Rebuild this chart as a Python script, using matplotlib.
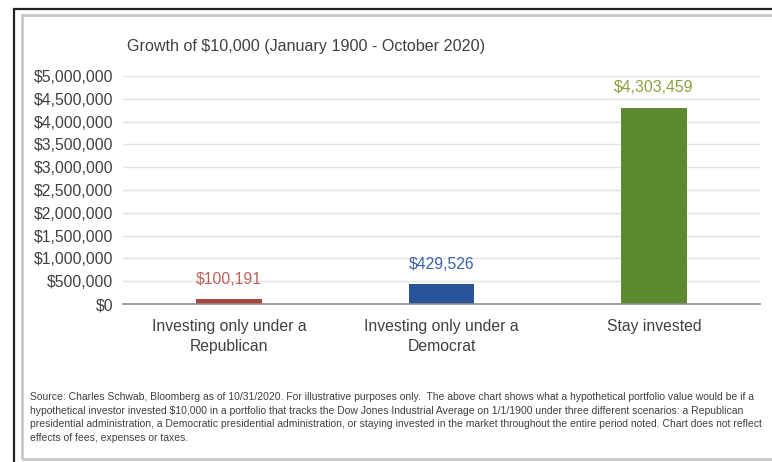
import matplotlib
matplotlib.use("Agg")
import matplotlib.pyplot as plt
from matplotlib.patches import Rectangle
from matplotlib.ticker import FuncFormatter

categories = ["Investing only under a\nRepublican", "Investing only under a\nDemocrat", "Stay invested"]
values = [100191, 429526, 4303459]
value_labels = ["$100,191", "$429,526", "$4,303,459"]
bar_colors = ["#a8473d", "#2a549a", "#5e8a2f"]
label_colors = ["#c0605a", "#3a64a6", "#8aa23f"]
yticks = [0, 500000, 1000000, 1500000, 2000000, 2500000, 3000000, 3500000, 4000000, 4500000, 5000000]

title = "Growth of $10,000 (January 1900 - October 2020)"
footnote = ("Source: Charles Schwab, Bloomberg as of 10/31/2020. For illustrative purposes only.  The above chart shows what a hypothetical portfolio value would be if a\n"
            "hypothetical investor invested $10,000 in a portfolio that tracks the Dow Jones Industrial Average on 1/1/1900 under three different scenarios: a Republican\n"
            "presidential administration, a Democratic presidential administration, or staying invested in the market throughout the entire period noted. Chart does not reflect\n"
            "effects of fees, expenses or taxes.")

plt.rcParams["font.family"] = ["Liberation Sans", "DejaVu Sans"]

W, H = 772, 462
fig = plt.figure(figsize=(W / 100, H / 100), dpi=100)
fig.patch.set_facecolor("white")

def fx(px):
    return px / W

def fy(py):
    return 1 - py / H

# frames
fig.add_artist(Rectangle((fx(14), fy(470)), fx(800), 461 / H, transform=fig.transFigure,
                         fill=False, edgecolor="#222222", linewidth=1.6))
fig.add_artist(Rectangle((fx(22), fy(459)), fx(800), 444 / H, transform=fig.transFigure,
                         fill=False, edgecolor="#c8c8c8", linewidth=2.0))

fs = 11.3
ax = fig.add_axes([fx(123), fy(304), fx(760 - 123), (304 - 76) / H])
x = list(range(len(categories)))
ax.bar(x, values, width=0.31, color=bar_colors, zorder=3)
for xi, v, lab, c in zip(x, values, value_labels, label_colors):
    ax.text(xi, v + 270000, lab, ha="center", va="bottom", color=c, fontsize=fs)

ax.set_xlim(-0.5, 2.5)
ax.set_ylim(0, 5000000)
ax.set_yticks(yticks)
ax.yaxis.set_major_formatter(FuncFormatter(lambda v, p: "${:,.0f}".format(v)))
ax.set_xticks(x)
ax.set_xticklabels(categories, fontsize=fs, color="#404040", linespacing=1.4)
ax.tick_params(axis="y", labelsize=fs, labelcolor="#404040", length=0, pad=7)
ax.tick_params(axis="x", length=0, pad=11)
ax.grid(axis="y", color="#e3e3e3", linewidth=1.0, zorder=0)
for s in ["top", "right", "left"]:
    ax.spines[s].set_visible(False)
ax.spines["bottom"].set_color("#8c8c8c")
ax.spines["bottom"].set_linewidth(1.2)
ax.spines["bottom"].set_zorder(4)

fig.text(fx(127), fy(46), title, fontsize=11.6, color="#404040", ha="left", va="center")
fig.text(fx(30), fy(392), footnote, fontsize=7.5, color="#404040", ha="left", va="top",
         linespacing=1.45)

fig.savefig("out.png", dpi=100)
